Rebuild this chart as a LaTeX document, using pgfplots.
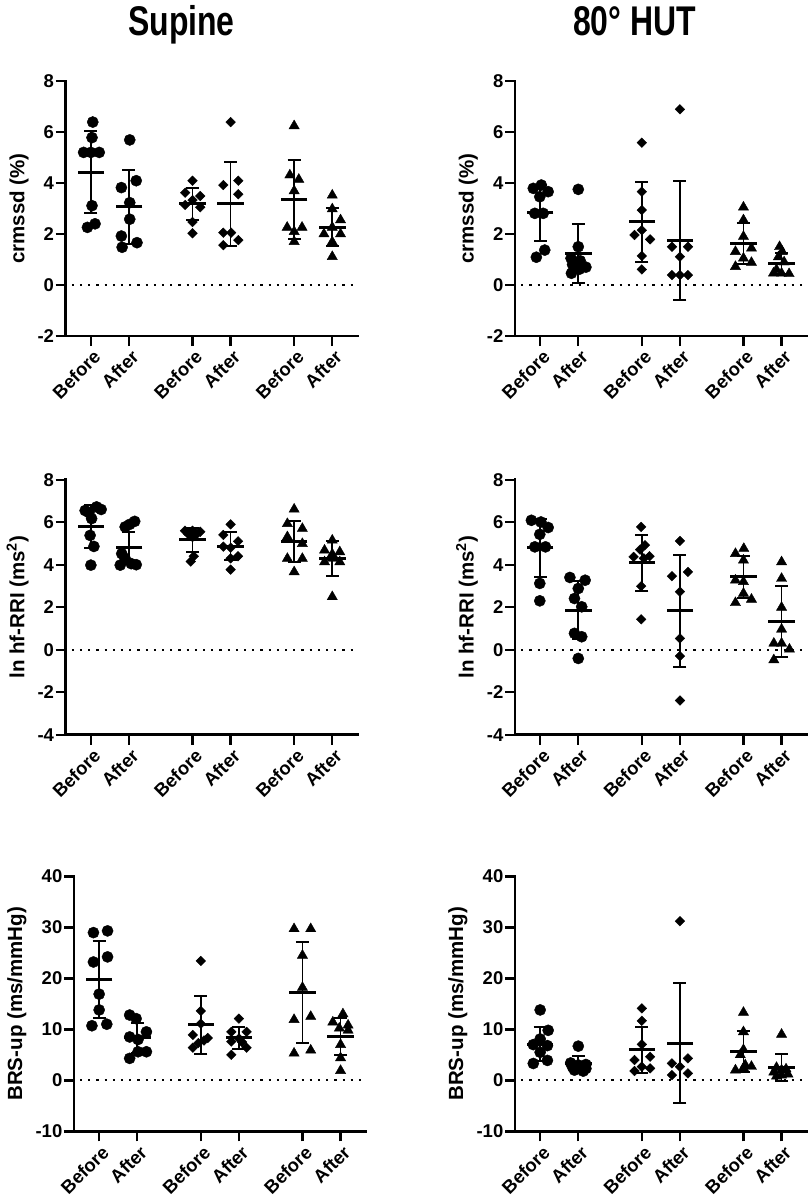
\documentclass[border=0pt]{standalone}
\usepackage{pgfplots}
\pgfplotsset{compat=1.18}
\usepackage{fontspec}
\setmainfont{Liberation Sans}
\usepackage{graphicx}

\pgfplotsset{
  panel/.style={
    scale only axis, width=292pt, height=255pt, anchor=south west,
    xmin=0.34, xmax=8.0,
    axis x line*=bottom, axis y line*=left,
    axis line style={-, line width=2.6pt, line cap=rect},
    xtick={1,2,3.667,4.667,6.333,7.333},
    xticklabels={Before,After,Before,After,Before,After},
    tick align=outside,
    major tick length=10pt,
    tick style={line width=2.4pt, black},
    xticklabel style={rotate=45, anchor=north east, font=\fontsize{18.5}{18.5}\selectfont\bfseries, inner sep=1pt, yshift=-2pt},
    yticklabel style={font=\fontsize{18.5}{18.5}\selectfont\bfseries, inner sep=1.5pt},
    ylabel style={font=\fontsize{20.5}{20.5}\selectfont\bfseries},
    ylabel shift=4pt,
    /pgf/number format/assume math mode=true,
    clip=false,
  },
  circ/.style={only marks, mark=*, mark size=5.6pt, mark options={fill=black, draw=black}},
  diam/.style={only marks, mark=square*, mark size=3.4pt, mark options={rotate=45, fill=black, draw=black}},
  tri/.style={only marks, mark=triangle*, mark size=5.9pt, mark options={fill=black, draw=black}},
  msd/.style={only marks, mark=-, mark size=13.3pt, mark options={line width=3pt, black},
    error bars/.cd, y dir=both, y explicit,
    error bar style={line width=1.7pt, black},
    error mark options={rotate=90, line width=2pt, mark size=6.5pt, black}},
  zero/.style={black, line width=2.2pt, dash pattern=on 2.2pt off 6pt},
}

\begin{document}
\begin{tikzpicture}
\path[use as bounding box] (0,0) rectangle (810pt,-1203pt);

\node[anchor=base west, font=\fontsize{41.5}{41.5}\selectfont\bfseries, inner sep=0pt] at (128pt,-35pt) {\scalebox{0.77}[1]{Supine}};
\node[anchor=base west, font=\fontsize{41.5}{41.5}\selectfont\bfseries, inner sep=0pt] at (573pt,-35pt) {\scalebox{0.77}[1]{80° HUT}};

% ---------- Panel 1: Supine crmssd
\begin{axis}[panel, at={(65.7pt,-336pt)}, ymin=-2, ymax=8, ytick={-2,0,...,8}, ylabel={crmssd (\%)}]
\addplot[zero] coordinates {(0.5,0) (8.0,0)};
\addplot[circ] table[row sep=\\] {x y\\ 1.05 6.39\\ 1.03 5.78\\ 0.81 5.2\\ 1.0 5.2\\ 1.22 5.2\\ 1.03 3.11\\ 1.11 2.4\\ 0.91 2.26\\
 2.02 5.69\\ 2.19 4.09\\ 1.80 3.82\\ 2.02 3.23\\ 2.02 2.58\\ 1.80 1.92\\ 2.21 1.66\\ 1.82 1.48\\};
\addplot[diam] table[row sep=\\] {x y\\ 3.667 4.09\\ 3.475 3.62\\ 3.868 3.49\\ 3.667 3.33\\ 3.475 3.14\\ 3.868 3.05\\ 3.667 2.47\\ 3.667 2.03\\
 4.667 6.39\\ 4.868 4.09\\ 4.475 3.92\\ 4.868 3.56\\ 4.475 2.05\\ 4.68 2.05\\ 4.868 1.76\\ 4.475 1.56\\};
\addplot[tri] table[row sep=\\] {x y\\ 6.333 6.24\\ 6.22 4.31\\ 6.455 4.14\\ 6.333 3.69\\ 6.15 2.26\\ 6.54 2.26\\ 6.333 2.09\\ 6.333 1.70\\
 7.333 3.52\\ 7.333 2.98\\ 7.55 2.55\\ 7.333 2.26\\ 7.115 2.0\\ 7.55 2.0\\ 7.333 1.69\\ 7.333 1.11\\};
\addplot[msd] table[row sep=\\, x=x, y=m, y error=s] {x m s\\ 1 4.43 1.6\\ 2 3.07 1.445\\ 3.667 3.18 0.63\\ 4.667 3.18 1.655\\ 6.333 3.36 1.55\\ 7.333 2.27 0.74\\};
\end{axis}

% ---------- Panel 2: HUT crmssd
\begin{axis}[panel, at={(515pt,-336pt)}, ymin=-2, ymax=8, ytick={-2,0,...,8}, ylabel={crmssd (\%)}]
\addplot[zero] coordinates {(0.5,0) (8.0,0)};
\addplot[circ] table[row sep=\\] {x y\\ 0.82 3.79\\ 1.03 3.92\\ 1.21 3.66\\ 0.99 3.46\\ 0.86 2.81\\ 1.08 2.81\\ 1.12 1.37\\ 0.9 1.09\\
 2.0 3.75\\ 2.0 1.5\\ 1.81 1.05\\ 2.05 0.95\\ 1.85 0.8\\ 2.2 0.7\\ 2.03 0.62\\ 1.82 0.46\\};
\addplot[diam] table[row sep=\\] {x y\\ 3.667 5.58\\ 3.667 3.66\\ 3.667 2.94\\ 3.667 2.15\\ 3.475 1.96\\ 3.885 1.79\\ 3.667 1.14\\ 3.667 0.61\\
 4.667 6.89\\ 4.457 1.5\\ 4.877 1.5\\ 4.667 1.11\\ 4.457 0.39\\ 4.667 0.39\\ 4.877 0.39\\};
\addplot[tri] table[row sep=\\] {x y\\ 6.333 3.05\\ 6.333 2.55\\ 6.333 1.9\\ 6.123 1.31\\ 6.543 1.44\\ 6.333 1.05\\ 6.123 0.72\\ 6.543 0.88\\
 7.28 1.5\\ 7.35 1.31\\ 7.25 1.1\\ 7.4 0.9\\ 7.12 0.46\\ 7.333 0.46\\ 7.53 0.44\\ 7.2 0.6\\};
\addplot[msd] table[row sep=\\, x=x, y=m, y error=s] {x m s\\ 1 2.84 1.1\\ 2 1.25 1.16\\ 3.667 2.48 1.57\\ 4.667 1.74 2.33\\ 6.333 1.62 0.8\\ 7.333 0.85 0.4\\};
\end{axis}

% ---------- Panel 3: Supine ln hf-RRI
\begin{axis}[panel, at={(65.7pt,-734.7pt)}, ymin=-4, ymax=8, ytick={-4,-2,...,8}, ylabel={ln hf-RRI (ms\textsuperscript{2})}]
\addplot[zero] coordinates {(0.5,0) (8.0,0)};
\addplot[circ] table[row sep=\\] {x y\\ 1.15 6.72\\ 1.27 6.6\\ 0.85 6.55\\ 0.95 6.45\\ 1.02 6.17\\ 0.98 5.38\\ 1.08 4.86\\ 1.0 3.98\\
 2.15 6.04\\ 2.02 5.9\\ 1.9 5.78\\ 1.81 4.52\\ 1.9 4.29\\ 2.06 4.05\\ 2.19 4.0\\ 1.77 3.98\\};
\addplot[diam] table[row sep=\\] {x y\\ 3.47 5.6\\ 3.87 5.55\\ 3.667 5.6\\ 3.55 5.45\\ 3.78 5.45\\ 3.667 5.3\\ 3.7 4.4\\ 3.62 4.15\\
 4.667 5.9\\ 4.475 5.4\\ 4.86 5.1\\ 4.475 4.85\\ 4.667 4.8\\ 4.86 4.4\\ 4.667 4.3\\ 4.667 3.77\\};
\addplot[tri] table[row sep=\\] {x y\\ 6.333 6.61\\ 6.155 5.93\\ 6.548 5.7\\ 6.155 5.31\\ 6.548 4.99\\ 6.155 4.29\\ 6.548 4.29\\ 6.333 3.66\\
 7.333 5.15\\ 7.13 4.68\\ 7.53 4.6\\ 7.333 4.5\\ 7.13 4.13\\ 7.333 4.3\\ 7.53 4.13\\ 7.333 2.49\\};
\addplot[msd] table[row sep=\\, x=x, y=m, y error=s] {x m s\\ 1 5.81 1.0\\ 2 4.8 0.75\\ 3.667 5.17 0.57\\ 4.667 4.87 0.67\\ 6.333 5.1 0.95\\ 7.333 4.3 0.82\\};
\end{axis}

% ---------- Panel 4: HUT ln hf-RRI
\begin{axis}[panel, at={(515pt,-734.7pt)}, ymin=-4, ymax=8, ytick={-4,-2,...,8}, ylabel={ln hf-RRI (ms\textsuperscript{2})}]
\addplot[zero] coordinates {(0.5,0) (8.0,0)};
\addplot[circ] table[row sep=\\] {x y\\ 0.77 6.09\\ 1.02 6.01\\ 1.21 5.75\\ 0.99 5.43\\ 0.86 4.84\\ 1.14 4.84\\ 0.99 3.12\\ 0.99 2.3\\
 1.78 3.4\\ 2.18 3.27\\ 2.0 2.88\\ 1.9 2.41\\ 2.09 2.02\\ 1.9 0.77\\ 2.09 0.61\\ 2.0 -0.41\\};
\addplot[diam] table[row sep=\\] {x y\\ 3.65 5.78\\ 3.75 4.92\\ 3.62 4.71\\ 3.45 4.37\\ 3.87 4.4\\ 3.72 4.3\\ 3.65 2.99\\ 3.65 1.43\\
 4.667 5.12\\ 4.457 3.46\\ 4.877 3.66\\ 4.667 2.73\\ 4.667 0.53\\ 4.667 -0.3\\ 4.667 -2.39\\};
\addplot[tri] table[row sep=\\] {x y\\ 6.123 4.52\\ 6.342 4.76\\ 6.333 4.21\\ 6.123 3.27\\ 6.333 3.2\\ 6.333 2.65\\ 6.123 2.21\\ 6.543 2.37\\
 7.333 4.13\\ 7.333 3.35\\ 7.333 1.99\\ 7.333 0.96\\ 7.13 0.3\\ 7.333 0.3\\ 7.54 0.02\\ 7.13 -0.48\\};
\addplot[msd] table[row sep=\\, x=x, y=m, y error=s] {x m s\\ 1 4.79 1.36\\ 2 1.86 1.37\\ 3.667 4.1 1.32\\ 4.667 1.83 2.645\\ 6.333 3.43 0.98\\ 7.333 1.33 1.66\\};
\end{axis}

% ---------- Panel 5: Supine BRS-up
\begin{axis}[panel, at={(74pt,-1131.3pt)}, ymin=-10, ymax=40, ytick={-10,0,...,40}, ylabel={BRS-up (ms/mmHg)}]
\addplot[zero] coordinates {(0.5,0) (8.0,0)};
\addplot[circ] table[row sep=\\] {x y\\ 0.85 28.96\\ 1.22 29.3\\ 0.85 23.2\\ 1.22 24.2\\ 1.0 16.9\\ 1.0 13.8\\ 0.81 10.7\\ 1.2 11.0\\
 1.8 12.8\\ 1.97 12.1\\ 2.24 9.5\\ 1.8 8.5\\ 2.02 8.0\\ 2.24 5.6\\ 2.02 5.6\\ 1.8 4.3\\};
\addplot[diam] table[row sep=\\] {x y\\ 3.667 23.4\\ 3.667 13.6\\ 3.667 11.1\\ 3.457 8.9\\ 3.85 8.3\\ 3.75 7.8\\ 3.6 7.3\\ 3.457 6.4\\
 4.667 12.1\\ 4.467 9.5\\ 4.867 9.5\\ 4.667 8.2\\ 4.467 7.6\\ 4.75 7.5\\ 4.867 6.4\\ 4.467 5.0\\};
\addplot[tri] table[row sep=\\] {x y\\ 6.113 29.7\\ 6.55 29.7\\ 6.333 24.5\\ 6.333 18.2\\ 6.113 11.9\\ 6.55 12.5\\ 6.113 5.3\\ 6.55 5.9\\
 7.395 13.0\\ 7.13 11.4\\ 7.53 10.8\\ 7.3 10.2\\ 7.53 9.8\\ 7.333 7.0\\ 7.333 4.4\\ 7.333 1.9\\};
\addplot[msd] table[row sep=\\, x=x, y=m, y error=s] {x m s\\ 1 19.8 7.5\\ 2 8.3 3.0\\ 3.667 10.85 5.6\\ 4.667 8.3 2.2\\ 6.333 17.3 9.9\\ 7.333 8.6 3.6\\};
\end{axis}

% ---------- Panel 6: HUT BRS-up
\begin{axis}[panel, at={(515pt,-1131.3pt)}, ymin=-10, ymax=40, ytick={-10,0,...,40}, ylabel={BRS-up (ms/mmHg)}]
\addplot[zero] coordinates {(0.5,0) (8.0,0)};
\addplot[circ] table[row sep=\\] {x y\\ 1.0 13.8\\ 1.21 9.8\\ 1.0 8.1\\ 0.82 7.0\\ 1.19 6.8\\ 1.0 5.5\\ 1.19 3.9\\ 0.82 3.3\\
 2.0 6.7\\ 1.8 3.4\\ 2.2 3.1\\ 2.0 3.0\\ 1.85 2.6\\ 2.2 2.3\\ 1.9 2.0\\ 2.13 1.8\\};
\addplot[diam] table[row sep=\\] {x y\\ 3.667 14.1\\ 3.667 11.67\\ 3.667 7.04\\ 3.475 3.97\\ 3.885 4.62\\ 3.475 1.82\\ 3.667 2.67\\ 3.885 2.34\\
 4.667 31.2\\ 4.457 3.32\\ 4.877 4.3\\ 4.667 2.67\\ 4.457 1.03\\ 4.877 1.36\\};
\addplot[tri] table[row sep=\\] {x y\\ 6.333 13.3\\ 6.333 9.5\\ 6.333 6.0\\ 6.25 5.0\\ 6.123 2.0\\ 6.38 3.0\\ 6.543 2.7\\ 6.333 2.4\\
 7.333 9.0\\ 7.2 2.5\\ 7.45 2.2\\ 7.333 2.0\\ 7.13 1.6\\ 7.5 1.2\\ 7.333 1.0\\ 7.2 0.8\\};
\addplot[msd] table[row sep=\\, x=x, y=m, y error=s] {x m s\\ 1 7.1 3.4\\ 2 3.2 1.6\\ 3.667 6.03 4.5\\ 4.667 7.3 11.8\\ 6.333 5.6 4.0\\ 7.333 2.6 2.65\\};
\end{axis}
\end{tikzpicture}
\end{document}
